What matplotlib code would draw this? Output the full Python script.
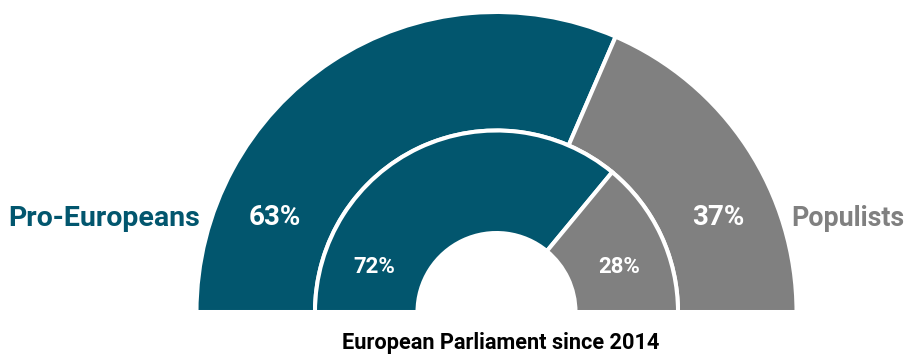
import numpy as np
import matplotlib
matplotlib.use("Agg")
import matplotlib.pyplot as plt
from matplotlib.patches import Wedge

groups = ["Pro-Europeans", "Populists"]
outer_share = [63, 37]   # outer ring
inner_share = [72, 28]   # inner ring
colors = ["#02566e", "#808080"]
caption = "European Parliament since 2014"

plt.rcParams['font.family'] = ['Roboto', 'DejaVu Sans']

W, H = 909, 354
fig = plt.figure(figsize=(W / 100, H / 100), dpi=100)
ax = fig.add_axes([0, 0, 1, 1])
ax.set_xlim(0, W)
ax.set_ylim(0, H)
ax.axis('off')

cx, cy = 496.5, 42
rings = [(outer_share, 300, 118.5), (inner_share, 181.5, 102.5)]
label_angles = [(157.0, 23.0), (160.0, 20.0)]
label_sizes = [20, 16]

for (shares, r, width), angs, fs in zip(rings, label_angles, label_sizes):
    total = sum(shares)
    start = 180.0
    for i, v in enumerate(shares):
        sweep = 180.0 * v / total
        w = Wedge((cx, cy), r, start - sweep, start, width=width,
                  facecolor=colors[i], edgecolor='white', linewidth=2.9)
        ax.add_patch(w)
        start -= sweep
    rm = r - width / 2
    for i, v in enumerate(shares):
        a = np.deg2rad(angs[i])
        ax.text(cx + rm * np.cos(a), cy + rm * np.sin(a), f"{v}%",
                ha='center', va='center', color='white', fontsize=fs,
                fontweight='bold')

ax.text(200, 136, groups[0], ha='right', va='center', color=colors[0],
        fontsize=20.5, fontweight='bold')
ax.text(791, 136, groups[1], ha='left', va='center', color=colors[1],
        fontsize=19.3, fontweight='bold')
ax.text(501, 10.5, caption, ha='center', va='center', color='black',
        fontsize=15.7, fontweight='bold')

fig.savefig("out.png", dpi=100)
